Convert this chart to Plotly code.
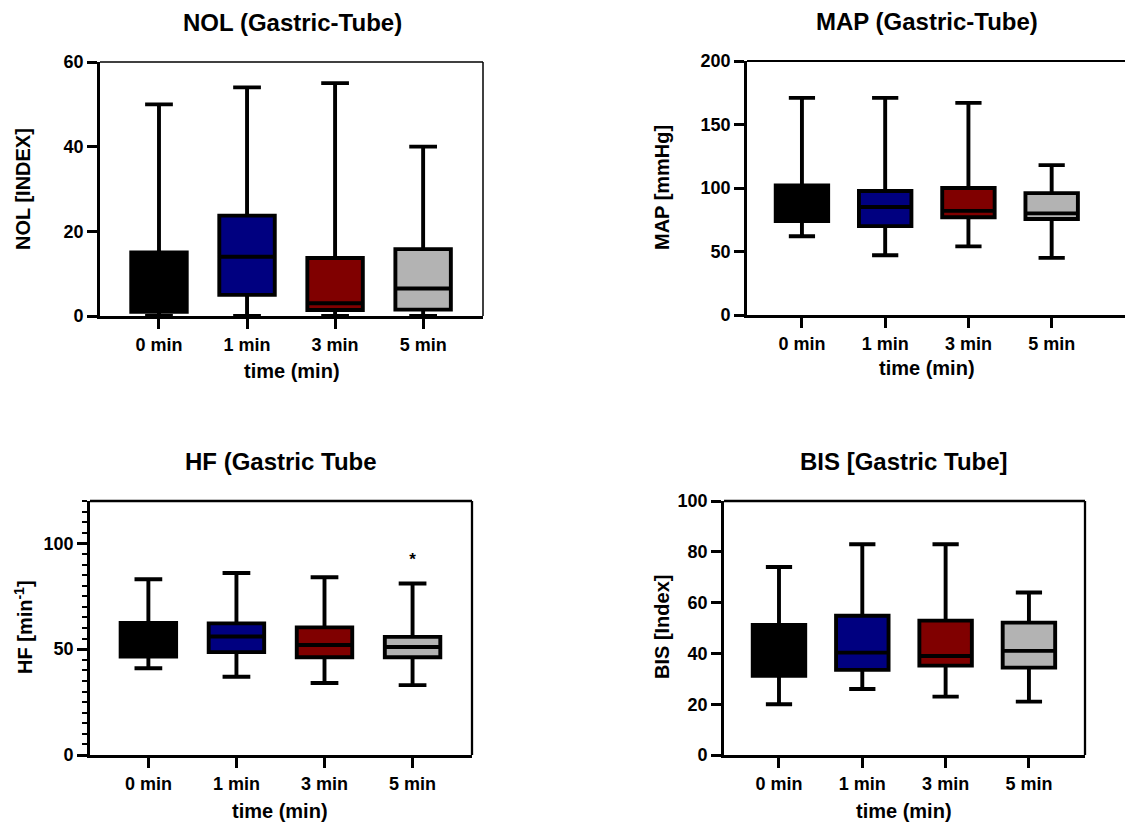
import plotly.graph_objects as go

# ---------------- data ----------------
categories = ["0 min", "1 min", "3 min", "5 min"]
box_colors = ["#000000", "#000080", "#800000", "#b3b3b3"]

nol_low = [0, 0, 0, 0]
nol_q1 = [1, 5, 1.4, 1.5]
nol_med = [5, 14, 3, 6.5]
nol_q3 = [15, 23.7, 13.7, 15.8]
nol_high = [50, 54, 55, 40]

map_low = [62, 47, 54, 45]
map_q1 = [74, 70, 77, 75.6]
map_med = [85, 85, 82, 80]
map_q3 = [102, 97.6, 100, 96]
map_high = [171, 171, 167, 118]

hf_low = [41, 37, 34, 33]
hf_q1 = [46.5, 48.6, 46.2, 46.2]
hf_med = [55, 56, 52, 51]
hf_q3 = [62.4, 62.2, 60.3, 55.8]
hf_high = [83, 86, 84, 81]
hf_outlier_cat = ["5 min"]
hf_outlier_val = [92]

bis_low = [20, 26, 23, 21]
bis_q1 = [31.2, 33.5, 35.2, 34.4]
bis_med = [40, 40.3, 39, 41]
bis_q3 = [51.2, 54.8, 52.9, 52.1]
bis_high = [74, 83, 83, 64]

titles = ["NOL (Gastric-Tube)", "MAP (Gastric-Tube)", "HF (Gastric Tube", "BIS [Gastric Tube]"]
y_titles = ["NOL [INDEX]", "MAP [mmHg]", "HF [min<sup>-1</sup>]", "BIS [Index]"]
x_title = "time (min)"

# ---------------- layout helpers ----------------
# the page body keeps an 8px margin, so the figure is made smaller by that
# amount and every target pixel position is shifted accordingly
VW, VH = 1133, 823
OFF = 8
W, H = VW - OFF, VH - OFF
FONT = "Liberation Sans, Arial, Helvetica, sans-serif"


def fx(p):
    return (p - OFF) / W


def fy(p):
    return 1 - (p - OFF) / H


panels = [
    dict(stats=(nol_low, nol_q1, nol_med, nol_q3, nol_high), x0=100, x1=483, y0=62, y1=316,
         xr=[-0.67, 3.68], yr=[0, 60], dtick=20, minor=None, top=1.5, right=1.5,
         tx=292, ty=22, xtx=292, xty=371, ytx=23, yty=189),
    dict(stats=(map_low, map_q1, map_med, map_q3, map_high), x0=747, x1=1133, y0=61, y1=315,
         xr=[-0.66, 3.977], yr=[0, 200], dtick=50, minor=None, top=2.2, right=None,
         tx=927, ty=21, xtx=927, xty=368, ytx=662, yty=188),
    dict(stats=(hf_low, hf_q1, hf_med, hf_q3, hf_high), x0=90, x1=472, y0=501, y1=755,
         xr=[-0.663, 3.675], yr=[0, 120], dtick=50, minor=5, top=2.3, right=2.3,
         tx=281, ty=461, xtx=280, xty=811, ytx=23, yty=627),
    dict(stats=(bis_low, bis_q1, bis_med, bis_q3, bis_high), x0=724, x1=1085, y0=501, y1=755,
         xr=[-0.66, 3.673], yr=[0, 100], dtick=20, minor=None, top=2.3, right=2.3,
         tx=904, ty=461, xtx=904, xty=811, ytx=662, yty=627),
]

fig = go.Figure()
shapes = []
annotations = []

for i, p in enumerate(panels):
    n = "" if i == 0 else str(i + 1)
    xa, ya = "x" + n, "y" + n
    low, q1, med, q3, high = p["stats"]
    for j, cat in enumerate(categories):
        fig.add_trace(go.Box(
            x=[cat], q1=[q1[j]], median=[med[j]], q3=[q3[j]],
            lowerfence=[low[j]], upperfence=[high[j]],
            fillcolor=box_colors[j], line=dict(color="black", width=3.9),
            width=0.63, whiskerwidth=0.5, boxpoints=False,
            xaxis=xa, yaxis=ya, showlegend=False, hoverinfo="skip",
        ))

    xax = dict(
        domain=[fx(p["x0"]), min(1.0, fx(p["x1"]))], anchor=ya, type="category",
        categoryorder="array", categoryarray=categories, range=p["xr"],
        showline=True, linecolor="black", linewidth=2.8, automargin=False,
        ticks="outside", ticklen=10, tickwidth=2.8, tickcolor="black",
        tickfont=dict(family=FONT, size=18, color="black", weight="bold"),
        showgrid=False, zeroline=False, fixedrange=True,
    )
    yax = dict(
        domain=[fy(p["y1"]), fy(p["y0"])], anchor=xa, range=p["yr"],
        tick0=0, dtick=p["dtick"], automargin=False,
        showline=True, linecolor="black", linewidth=2.8,
        ticks="outside", ticklen=10, tickwidth=2.8, tickcolor="black",
        tickfont=dict(family=FONT, size=18, color="black", weight="bold"),
        showgrid=False, zeroline=False, fixedrange=True,
    )
    if p["minor"]:
        yax["minor"] = dict(dtick=p["minor"], tick0=0, ticks="outside", ticklen=5,
                            tickwidth=2.2, tickcolor="black", showgrid=False)
    fig.layout["xaxis" + n] = xax
    fig.layout["yaxis" + n] = yax

    if p["top"]:
        shapes.append(dict(type="line", xref=xa + " domain", yref=ya + " domain",
                           x0=0, x1=1, y0=1, y1=1,
                           line=dict(color="black", width=p["top"])))
    if p["right"]:
        shapes.append(dict(type="line", xref=xa + " domain", yref=ya + " domain",
                           x0=1, x1=1, y0=0, y1=1,
                           line=dict(color="black", width=p["right"])))

    annotations.append(dict(text=titles[i], x=fx(p["tx"]), y=fy(p["ty"]), xref="paper", yref="paper",
                            xanchor="center", yanchor="middle", showarrow=False,
                            font=dict(family=FONT, size=24, color="black", weight="bold")))
    annotations.append(dict(text=x_title, x=fx(p["xtx"]), y=fy(p["xty"]), xref="paper", yref="paper",
                            xanchor="center", yanchor="middle", showarrow=False,
                            font=dict(family=FONT, size=20, color="black", weight="bold")))
    annotations.append(dict(text=y_titles[i], x=fx(p["ytx"]), y=fy(p["yty"]), xref="paper", yref="paper",
                            xanchor="center", yanchor="middle", showarrow=False, textangle=-90,
                            font=dict(family=FONT, size=20, color="black", weight="bold")))

# HF outlier marker
fig.add_trace(go.Scatter(
    x=hf_outlier_cat, y=hf_outlier_val, mode="text", text=["*"],
    textposition="middle center",
    textfont=dict(family=FONT, size=17, color="black", weight="bold"),
    xaxis="x3", yaxis="y3", showlegend=False, hoverinfo="skip",
))

fig.update_layout(
    template="none",
    width=W, height=H, margin=dict(l=0, r=0, t=0, b=0, pad=0),
    paper_bgcolor="white", plot_bgcolor="white",
    boxmode="overlay", showlegend=False,
    shapes=shapes, annotations=annotations,
)

fig.write_html("out.html")
